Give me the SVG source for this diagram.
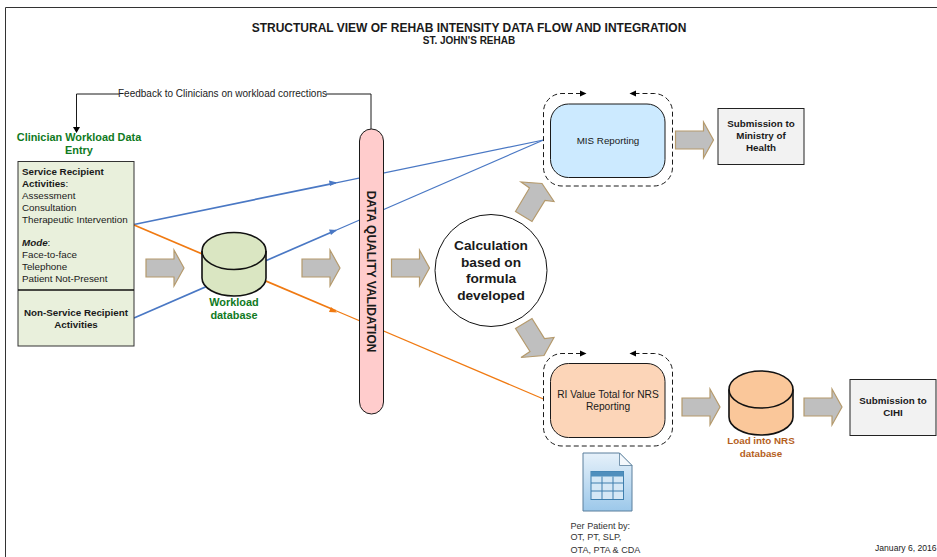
<svg xmlns="http://www.w3.org/2000/svg" width="937" height="557" viewBox="0 0 937 557">
<style>
text{font-family:"Liberation Sans",Arial,sans-serif;font-size:9.800px;fill:#1a1a1a}
.b{font-weight:bold}
.m{text-anchor:middle}
.g{fill:#0f7a1e;font-weight:bold;text-anchor:middle;font-size:10.900px}
.c{font-size:13.700px;font-weight:bold;text-anchor:middle}
.p{font-size:9.100px;fill:#333}
.f{font-size:10px}
.blk{fill:#bfbfbf;stroke:#b59a6c;stroke-width:1.200}
.sh{stroke:#111;stroke-width:1.600}
.dash{fill:none;stroke:#1a1a1a;stroke-width:1;stroke-dasharray:5 3}
.blue{fill:none;stroke:#4a78c4;stroke-width:1.200}
.blue2{fill:none;stroke:#4a78c4;stroke-width:1.700}
.org{fill:none;stroke:#f07a12;stroke-width:1.200}
.org2{fill:none;stroke:#f07a12;stroke-width:1.700}
.cell{fill:none;stroke:#3f7fae;stroke-width:1}
</style>
<defs>
<linearGradient id="doc" x1="0" y1="0" x2="0" y2="1"><stop offset="0" stop-color="#e6f1fa"/><stop offset="1" stop-color="#9cc8ea"/></linearGradient>
<polygon id="arrow" points="0,9 28,9 28,0 38,18 28,36 28,27 0,27" class="blk"/>
</defs>
<rect width="937" height="557" fill="#fff"/>
<path d="M5.500,557V7.500H937" fill="none" stroke="#333" stroke-width="1"/>
<g id="title">
<text x="469" y="31.500" class="b m" style="font-size:12px">STRUCTURAL VIEW OF REHAB INTENSITY DATA FLOW AND INTEGRATION</text>
<text x="469" y="43.500" class="b m" style="font-size:10px">ST. JOHN'S REHAB</text>
</g>
<g id="connectors">
<path class="blue2" d="M134,224.500L336,182.800"/>
<path class="blue" d="M336,182.800L543.500,140"/>
<path class="blue2" d="M134,318L336,230.200"/>
<path class="blue" d="M336,230.200L543.500,140"/>
<path class="org2" d="M134,225L336,310.800"/>
<path class="org" d="M336,310.800L543.500,399"/>
<polygon points="337,182.500 329,180.500 330,186" fill="#4a78c4"/>
<polygon points="337,230 329,229.500 331,235" fill="#4a78c4"/>
<polygon points="337,312.500 331,307 329,312" fill="#f07a12"/>
<path d="M371,129V94H76.500V128" fill="none" stroke="#1a1a1a" stroke-width="1"/>
<polygon points="76.500,133 73,127 80,127" fill="#000"/>
<rect x="119" y="89" width="207" height="10" fill="#fff"/>
<text x="222.500" y="97" class="m f">Feedback to Clinicians on workload corrections</text>
</g>
<g id="clinician-entry">
<text x="79" y="141" class="g">Clinician Workload Data</text>
<text x="79" y="154" class="g">Entry</text>
<rect x="18" y="161.500" width="116" height="184.500" fill="#e9f0dc" stroke="#333" stroke-width="1"/>
<path d="M18,290H134" stroke="#111" stroke-width="1.300"/>
<text x="22" y="175" class="b">Service Recipient</text>
<text x="22" y="187"><tspan class="b">Activities</tspan>:</text>
<text x="22" y="199">Assessment</text>
<text x="22" y="211">Consultation</text>
<text x="22" y="223">Therapeutic Intervention</text>
<text x="22" y="246"><tspan class="b" font-style="italic">Mode</tspan>:</text>
<text x="22" y="258">Face-to-face</text>
<text x="22" y="270">Telephone</text>
<text x="22" y="282">Patient Not-Present</text>
<text x="76" y="316" class="b m">Non-Service Recipient</text>
<text x="76" y="328" class="b m">Activities</text>
</g>
<use href="#arrow" x="146" y="250"/>
<g id="workload-db">
<path class="sh" fill="#dae6c2" d="M202,251V278A32,18 0 0 0 266,278V251A32,18.500 0 0 0 202,251Z"/>
<path class="sh" fill="none" d="M202,251A32,18.500 0 0 0 266,251"/>
<text x="234" y="306" class="g">Workload</text>
<text x="234" y="319" class="g">database</text>
</g>
<use href="#arrow" x="302" y="250"/>
<g id="validation">
<rect x="359.500" y="129" width="24" height="285" rx="12" fill="#ffcccc" stroke="#1a1a1a" stroke-width="1"/>
<text transform="translate(366.800,271.500) rotate(90)" class="b m" style="font-size:12px">DATA QUALITY VALIDATION</text>
</g>
<use href="#arrow" x="391.500" y="250"/>
<g id="calculation">
<circle cx="491" cy="270.500" r="56" fill="#fff" stroke="#111" stroke-width="1"/>
<text x="491" y="250" class="c">Calculation</text>
<text x="491" y="266.500" class="c">based on</text>
<text x="491" y="283" class="c">formula</text>
<text x="491" y="299.500" class="c">developed</text>
</g>
<polygon class="blk" points="515.500,211.500 532,221.500 545,200.500 554,201.500 542,183.500 521,182 529.500,188"/>
<polygon class="blk" points="515.500,328.500 532,318.500 544.500,338.500 554,337.500 544,355.500 521,357.500 530,351.500"/>
<g id="mis">
<path class="dash" d="M581,93.500H562A18.500,18.500 0 0 0 543.500,112V167.500A18.500,18.500 0 0 0 562,186H654A18.500,18.500 0 0 0 672.500,167.500V112A18.500,18.500 0 0 0 654,93.500H635"/>
<polygon points="586.500,93.500 580,90.500 580,96.500" fill="#000"/>
<polygon points="629.500,93.500 636,90.500 636,96.500" fill="#000"/>
<rect x="550.500" y="104" width="114.500" height="73.500" rx="18" fill="#cceaff" stroke="#1a1a1a" stroke-width="1"/>
<text x="608" y="144" class="m">MIS Reporting</text>
</g>
<use href="#arrow" x="675.500" y="122"/>
<g id="ministry">
<rect x="718" y="108.500" width="86" height="56" fill="#f2f2f2" stroke="#222" stroke-width="1"/>
<text x="761" y="126.500" class="b m">Submission to</text>
<text x="761" y="138.500" class="b m">Ministry of</text>
<text x="761" y="150.500" class="b m">Health</text>
</g>
<g id="nrs">
<path class="dash" d="M581,353.500H562A18.500,18.500 0 0 0 543.500,372V427.500A18.500,18.500 0 0 0 562,446H654A18.500,18.500 0 0 0 672.500,427.500V372A18.500,18.500 0 0 0 654,353.500H635"/>
<polygon points="586.500,353.500 580,350.500 580,356.500" fill="#000"/>
<polygon points="629.500,353.500 636,350.500 636,356.500" fill="#000"/>
<rect x="550.500" y="363.500" width="114.500" height="74" rx="18" fill="#fcd5b8" stroke="#1a1a1a" stroke-width="1"/>
<text x="608" y="397.500" class="m" style="font-size:10.200px">RI Value Total for NRS</text>
<text x="608" y="409.500" class="m" style="font-size:10.200px">Reporting</text>
</g>
<use href="#arrow" x="682" y="389"/>
<g id="nrs-db">
<path class="sh" fill="#fac79a" d="M729,389.500V417A32,18 0 0 0 793,417V389.500A32,18.500 0 0 0 729,389.500Z"/>
<path class="sh" fill="none" d="M729,389.500A32,18.500 0 0 0 793,389.500"/>
<text x="761" y="444" class="m b" style="fill:#b5601c">Load into NRS</text>
<text x="761" y="457" class="m b" style="fill:#b5601c">database</text>
</g>
<use href="#arrow" x="804" y="389"/>
<g id="cihi">
<rect x="850" y="379.500" width="86" height="56" fill="#f2f2f2" stroke="#222" stroke-width="1"/>
<text x="893" y="404" class="b m">Submission to</text>
<text x="893" y="416" class="b m">CIHI</text>
</g>
<g id="patient-doc">
<path d="M583,453H619.500L632,465.500V511H583Z" fill="url(#doc)" stroke="#5b7f9c" stroke-width="1"/>
<path d="M619.500,453V465.500H632Z" fill="#f4f8fc" stroke="#5b7f9c" stroke-width="0.800"/>
<rect x="591" y="471.500" width="32.500" height="28" fill="#d5e8f6" stroke="#3f7fae" stroke-width="1"/>
<rect x="591" y="471.500" width="32.500" height="5" fill="#4f8fbd"/>
<path class="cell" d="M602,476.500V499.500M613,476.500V499.500M591,483H623.500M591,491H623.500"/>
<text x="570.500" y="529" class="p">Per Patient by:</text>
<text x="570.500" y="540" class="p">OT, PT, SLP,</text>
<text x="570.500" y="553" class="p">OTA, PTA &amp; CDA</text>
</g>
<text x="875" y="551" style="font-size:8.600px">January 6, 2016</text>
</svg>
